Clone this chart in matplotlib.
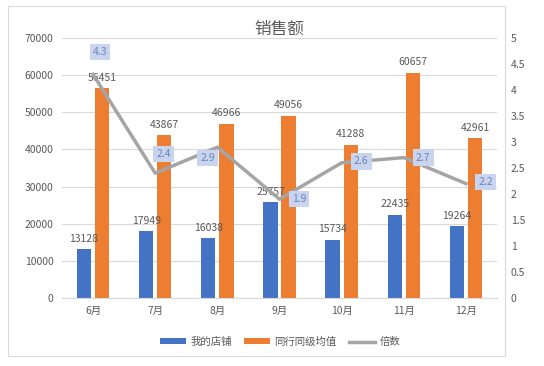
import numpy as np
import matplotlib.pyplot as plt
from matplotlib.patches import Rectangle

plt.rcParams['font.family'] = ['Noto Sans CJK SC', 'DejaVu Sans']

months = ['6月', '7月', '8月', '9月', '10月', '11月', '12月']
my_shop = [13128, 17949, 16038, 25757, 15734, 22435, 19264]
peer_avg = [56451, 43867, 46966, 49056, 41288, 60657, 42961]
ratio = [4.3, 2.4, 2.9, 1.9, 2.6, 2.7, 2.2]

# offsets (points) for the ratio labels
ratio_offsets = [(5, 16), (6, 14), (-7, -8), (14, 0), (14, 1), (14, 0), (14, 1)]

blue = '#4472C4'
orange = '#ED7D31'
grey = '#A5A5A5'
txt = '#595959'

fig = plt.figure(figsize=(5.44, 3.66), dpi=100)
fig.patches.append(Rectangle((8 / 544, 10 / 366), 497 / 544, 350 / 366,
                             transform=fig.transFigure, fill=False,
                             edgecolor='#D9D9D9', linewidth=0.8))
ax = fig.add_axes([62 / 544, 68 / 366, 435 / 544, 260 / 366])
ax2 = ax.twinx()

x = np.arange(len(months))
w = 0.23
b1 = ax.bar(x - 0.145, my_shop, w, color=blue, label='我的店铺', zorder=2)
b2 = ax.bar(x + 0.145, peer_avg, w, color=orange, label='同行同级均值', zorder=2)

for rect, v in zip(b1, my_shop):
    ax.annotate(str(v), (rect.get_x() + rect.get_width() / 2, v),
                xytext=(0, 4), textcoords='offset points', ha='center', va='bottom',
                fontsize=7.5, color=txt)
for rect, v in zip(b2, peer_avg):
    ax.annotate(str(v), (rect.get_x() + rect.get_width() / 2, v),
                xytext=(0, 4), textcoords='offset points', ha='center', va='bottom',
                fontsize=7.5, color=txt)

ln, = ax2.plot(x, ratio, color=grey, linewidth=2.5, label='倍数', zorder=3)
for xi, v, off in zip(x, ratio, ratio_offsets):
    ax2.annotate(str(v), (xi, v), xytext=off, textcoords='offset points',
                 ha='center', va='center', fontsize=7.5, color='#6F82B8',
                 bbox=dict(boxstyle='square,pad=0.3', fc='#C9D5EE', ec='none'))

ax.set_xlim(-0.5, 6.5)
ax.set_ylim(0, 70000)
ax.set_yticks(range(0, 70001, 10000))
ax2.set_ylim(0, 5)
ax2.set_yticks(np.arange(0, 5.01, 0.5))
ax2.set_yticklabels(['0', '0.5', '1', '1.5', '2', '2.5', '3', '3.5', '4', '4.5', '5'])
ax.set_xticks(x)
ax.set_xticklabels(months)

ax.grid(axis='y', color='#D9D9D9', linewidth=0.8, zorder=0)
for a in (ax, ax2):
    for s in a.spines.values():
        s.set_visible(False)
    a.tick_params(length=0, labelsize=7.5, labelcolor=txt)
ax.spines['bottom'].set_visible(True)
ax.spines['bottom'].set_color('#D9D9D9')
ax.tick_params(axis='y', pad=6)
ax2.tick_params(axis='y', pad=10)
ax.tick_params(axis='x', pad=6)

ax.set_title('销售额', fontsize=12, color=txt, pad=1)

fig.legend(handles=[b1, b2, ln], loc='center', bbox_to_anchor=(280 / 544, 1 - 342 / 366),
           ncol=3, frameon=False, fontsize=7.5, labelcolor=txt,
           handlelength=2.5, handleheight=0.5, columnspacing=1.2, handletextpad=0.4)

fig.savefig('out.png', dpi=100)
